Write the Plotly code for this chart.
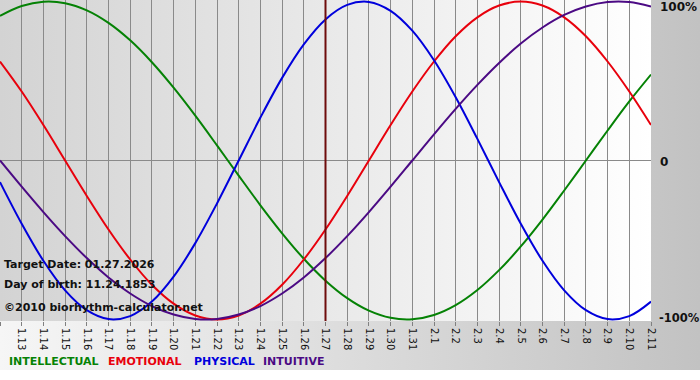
import base64
import plotly.graph_objects as go

# ---- data ----
dates = ["1.12", "1.13", "1.14", "1.15", "1.16", "1.17", "1.18", "1.19", "1.20", "1.21",
         "1.22", "1.23", "1.24", "1.25", "1.26", "1.27", "1.28", "1.29", "1.30", "1.31",
         "2.1", "2.2", "2.3", "2.4", "2.5", "2.6", "2.7", "2.8", "2.9", "2.10", "2.11"]

intellectual = [0.910, 0.972, 0.999, 0.990, 0.945, 0.866, 0.756, 0.618, 0.458, 0.282,
                0.095, -0.095, -0.282, -0.458, -0.618, -0.756, -0.866, -0.945, -0.990, -0.999,
                -0.972, -0.910, -0.815, -0.690, -0.541, -0.372, -0.189, 0.000, 0.189, 0.372, 0.541]

emotional = [0.623, 0.434, 0.223, 0.000, -0.223, -0.434, -0.623, -0.782, -0.901, -0.975,
             -1.000, -0.975, -0.901, -0.782, -0.623, -0.434, -0.223, 0.000, 0.223, 0.434,
             0.623, 0.782, 0.901, 0.975, 1.000, 0.975, 0.901, 0.782, 0.623, 0.434, 0.223]

physical = [-0.136, -0.398, -0.631, -0.817, -0.942, -0.998, -0.979, -0.888, -0.731, -0.520,
            -0.270, 0.000, 0.270, 0.520, 0.731, 0.888, 0.979, 0.998, 0.942, 0.817,
            0.631, 0.398, 0.136, -0.136, -0.398, -0.631, -0.817, -0.942, -0.998, -0.979, -0.888]

intuitive = [0.000, -0.165, -0.325, -0.476, -0.614, -0.736, -0.837, -0.916, -0.969, -0.997,
             -0.997, -0.969, -0.916, -0.837, -0.736, -0.614, -0.476, -0.325, -0.165, 0.000,
             0.165, 0.325, 0.476, 0.614, 0.736, 0.837, 0.916, 0.969, 0.997, 0.997, 0.969]

series_names = ["INTELLECTUAL", "EMOTIONAL", "PHYSICAL", "INTUITIVE"]
y_tick_vals = [1, 0, -1]
y_tick_text = ["100%", "0", "-100%"]
target_date = "1.27"
info_lines = ["Target Date: 01.27.2026", "Day of birth: 11.24.1853", "\u00a92010 biorhythm-calculator.net"]

# ---- styling ----
W, H = 700, 380
ML, MR, MT, MB = 0, 49, 0, 59
PW, PH = W - ML - MR, H - MT - MB
colors = {"INTELLECTUAL": "#058205", "EMOTIONAL": "#e8000c", "PHYSICAL": "#0000dc", "INTUITIVE": "#4b0a84"}
FONT = "DejaVu Sans, Verdana, sans-serif"

x = list(range(len(dates)))
values = {"INTELLECTUAL": intellectual, "EMOTIONAL": emotional, "PHYSICAL": physical, "INTUITIVE": intuitive}


def svg_gradient(c0, c1):
    svg = ('<svg xmlns="http://www.w3.org/2000/svg" width="100" height="100" preserveAspectRatio="none">'
           '<defs><linearGradient id="g" x1="0" x2="1" y1="0" y2="0">'
           f'<stop offset="0" stop-color="{c0}"/><stop offset="1" stop-color="{c1}"/>'
           '</linearGradient></defs><rect width="100" height="100" fill="url(#g)"/></svg>')
    return "data:image/svg+xml;base64," + base64.b64encode(svg.encode()).decode()


fig = go.Figure()
for name in series_names:
    fig.add_trace(go.Scatter(x=x, y=values[name], mode="lines", name=name,
                             line=dict(color=colors[name], width=2, shape="spline", smoothing=1.0),
                             showlegend=False, hoverinfo="skip"))

ti = dates.index(target_date)
fig.add_shape(type="line", x0=ti, x1=ti, xref="x", y0=0, y1=1, yref="paper",
              line=dict(color="#6e0c0c", width=2), layer="above")

outer_h = 370  # gradient area height in px
images = [
    dict(source=svg_gradient("#f6f6f6", "#c2c2c2"), xref="paper", yref="paper",
         x=-ML / PW, y=1 + MT / PH, sizex=W / PW, sizey=outer_h / PH,
         xanchor="left", yanchor="top", sizing="stretch", layer="below"),
    dict(source=svg_gradient("#d3d3d3", "#ffffff"), xref="paper", yref="paper",
         x=0, y=1, sizex=1, sizey=1, xanchor="left", yanchor="top", sizing="stretch", layer="below"),
]

annotations = []
# right side percentage labels
for v, t in zip(y_tick_vals, y_tick_text):
    annotations.append(dict(x=1, xref="paper", xanchor="left", xshift=7 if v >= 0 else 6, y=v, yref="y",
                            yanchor="middle", yshift=-5 if v == 1 else (-1 if v == 0 else 1),
                            text=f"<b>{t}</b>", showarrow=False,
                            font=dict(family=FONT, size=12 if v >= 0 else 11.5, color="#111111")))
# info text
for i, t in enumerate(info_lines):
    ypx = [264, 284, 307][i]
    annotations.append(dict(x=2 / PW, xref="paper", xanchor="left", y=1 - ypx / PH, yref="paper",
                            yanchor="middle", text=f"<b>{t}</b>", showarrow=False,
                            font=dict(family=FONT, size=11, color="#111111")))
# legend labels
for name, xpx in zip(series_names, [7, 106, 192, 261]):
    annotations.append(dict(x=xpx / PW, xref="paper", xanchor="left", y=1 - 361 / PH, yref="paper",
                            yanchor="middle", text=f"<b>{name}</b>", showarrow=False,
                            font=dict(family=FONT, size=11, color=colors[name])))

fig.update_layout(
    width=W, height=H, autosize=False, template="none",
    margin=dict(l=ML, r=MR, t=MT, b=MB, pad=0),
    paper_bgcolor="#ffffff", plot_bgcolor="rgba(0,0,0,0)",
    images=images, annotations=annotations, showlegend=False,
    xaxis=dict(range=[0, len(dates) - 1], tickmode="array", tickvals=x, ticktext=dates,
               tickangle=90, ticks="outside", ticklen=4, tickcolor="#808080", tickwidth=1,
               showgrid=True, gridcolor="#8a8a8a", gridwidth=1, zeroline=False, showline=False,
               tickfont=dict(family=FONT, size=10, color="#111111"), automargin=False, fixedrange=True),
    yaxis=dict(range=[-1.01, 1.01], showgrid=False, zeroline=True, zerolinecolor="#8a8a8a",
               zerolinewidth=1, showticklabels=False, ticks="", showline=False,
               automargin=False, fixedrange=True),
)

fig.write_html("out.html", config={"displayModeBar": False},
               post_script="document.body.style.margin='0';document.body.style.padding='0';")
